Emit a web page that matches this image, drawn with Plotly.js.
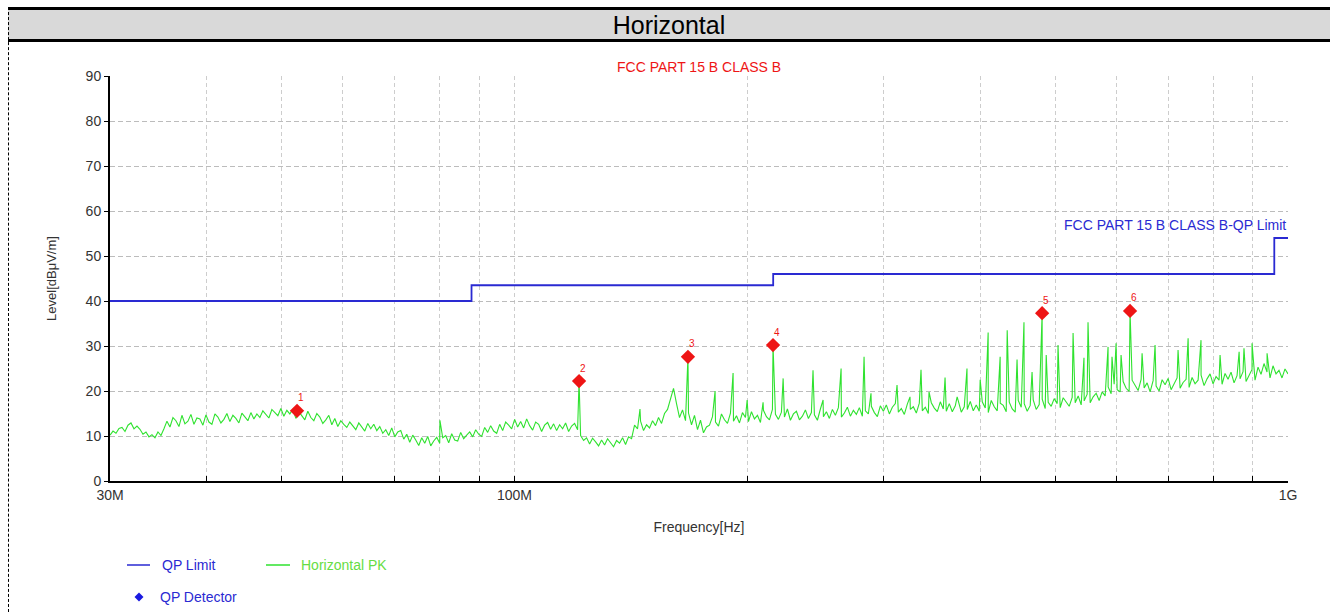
<!DOCTYPE html>
<html>
<head>
<meta charset="utf-8">
<script src="https://cdn.plot.ly/plotly-3.0.1.min.js"></script>
<style>
  html, body { margin: 0; padding: 0; background: #fff; }
  #wrap { position: relative; width: 1330px; height: 612px; overflow: hidden; font-family: "Liberation Sans", Arial, sans-serif; }
  #chart { position: absolute; left: 0; top: 0; width: 1330px; height: 612px; }
  #band { position: absolute; left: 8px; right: 0; top: 7px; height: 29px; background: #d9d9d9;
          border-top: 3px solid #000; border-bottom: 3px solid #000; text-align: center;
          font-size: 25px; line-height: 30px; color: #000; pointer-events: none; }
  #edge { position: absolute; left: 8px; top: 7px; bottom: 0; border-left: 1px dashed #000; pointer-events: none; }
</style>
</head>
<body>
<div id="wrap">
  <div id="chart"></div>
  <div id="band">Horizontal</div>
  <div id="edge"></div>
</div>
<script>
// Sweep span of the receiver (Hz)
const sweepStartHz = 30e6;
const sweepStopHz = 1e9;

// Horizontal PK noise floor, one reading per sweep point (dBμV/m)
const pkFloor = [
  10.2, 11.1, 10.6, 11.7, 11.9, 11.0, 12.4, 12.9, 11.6, 12.2,
  11.5, 10.4, 10.9, 9.8, 10.3, 9.6, 10.9, 10.1, 11.6, 13.3,
  12.0, 14.1, 13.4, 12.1, 14.6, 12.7, 13.3, 14.8, 12.6, 14.0,
  13.8, 12.4, 14.7, 13.1, 12.6, 14.9, 14.2, 12.9, 13.7, 15.0,
  13.2, 14.6, 13.9, 12.9, 15.1, 14.3, 13.4, 15.2, 13.8, 14.9,
  14.1, 15.6, 14.8, 14.0, 15.9, 15.2, 14.5, 16.1, 14.4, 15.7,
  14.9, 16.0, 13.9, 15.4, 14.6, 13.6, 15.5, 14.1, 13.4, 15.0,
  14.2, 12.8, 13.6, 14.6, 12.5, 13.9, 12.1, 13.4, 12.6, 11.9,
  13.1, 12.2, 11.4, 12.9, 11.9, 11.1, 12.8, 11.6, 12.6, 11.2,
  12.1, 10.6, 11.4, 10.1, 11.8, 9.8, 10.9, 11.2, 9.3, 10.4,
  8.6, 10.2, 9.1, 7.9, 9.6, 8.4, 9.9, 7.8, 8.9, 9.7,
  8.4, 9.6, 10.1, 8.5, 10.5, 9.1, 8.9, 10.8, 9.4, 10.2,
  10.9, 9.8, 11.4, 10.4, 9.9, 11.9, 10.8, 12.3, 11.1, 10.6,
  12.6, 11.2, 13.1, 12.4, 11.6, 13.7, 12.0, 13.2, 11.8, 13.8,
  12.3, 11.3, 13.1, 12.6, 11.0, 12.4, 13.0, 11.5, 12.7, 11.2,
  12.5, 11.6, 12.9, 11.0, 12.2, 12.8, 11.4, 10.1, 9.0, 9.6,
  8.2, 9.5, 8.7, 7.8, 9.1, 8.0, 9.4, 8.6, 7.6, 9.0,
  8.4, 9.6, 8.1, 9.8, 9.4, 12.4, 11.6, 13.3, 11.2, 12.5,
  11.8, 13.4, 12.3, 14.1, 12.8, 15.0, 15.9, 18.1, 20.6, 17.2,
  14.1, 15.8, 13.4, 15.1, 12.5, 14.6, 11.4, 13.5, 10.7, 12.0,
  12.4, 14.3, 13.1, 12.2, 14.9, 13.6, 12.8, 15.1, 13.3, 14.5,
  12.9, 15.2, 14.1, 13.2, 15.4, 13.8, 14.6, 13.0, 15.7, 14.3,
  13.6, 15.9, 14.8, 13.7, 15.3, 14.2, 16.0, 13.5, 14.9, 15.5,
  13.6, 14.4, 15.8, 13.9, 15.2, 14.7, 13.5, 16.0, 14.3, 15.4,
  13.9, 15.9, 14.6, 16.3, 14.2, 15.1, 16.4, 14.4, 15.7, 14.8,
  16.3, 14.4, 15.6, 14.9, 16.6, 15.2, 14.3, 16.7, 15.5, 16.9,
  14.9, 16.4, 17.2, 15.3, 16.1, 14.8, 17.1, 15.9, 16.5, 15.1,
  17.3, 15.6, 16.4, 15.0, 17.4, 16.2, 15.4, 17.6, 16.0, 15.5,
  17.2, 15.4, 16.7, 17.8, 15.3, 16.5, 15.9, 17.7, 15.6, 16.9,
  15.5, 17.6, 16.2, 15.2, 17.9, 16.5, 15.6, 17.3, 16.8, 15.4,
  17.5, 16.0, 15.3, 17.9, 16.4, 17.2, 15.5, 16.8, 18.0, 15.9,
  17.0, 18.2, 16.1, 17.5, 16.6, 18.3, 17.2, 16.3, 18.5, 17.4,
  16.6, 18.6, 17.4, 18.9, 16.9, 17.8, 19.3, 17.4, 18.7, 19.5,
  17.9, 19.8, 18.9, 20.9, 19.4, 21.5, 20.3, 19.8, 22.1, 20.6,
  19.9, 22.4, 21.2, 20.1, 22.6, 20.7, 21.8, 19.8, 22.3, 21.1,
  20.0, 22.5, 21.4, 22.8, 20.3, 21.7, 22.9, 20.6, 21.9, 22.6,
  20.8, 23.0, 21.6, 22.4, 23.5, 21.2, 22.7, 23.8, 21.6, 23.2,
  22.4, 21.5, 23.9, 22.6, 24.2, 21.8, 23.4, 22.7, 24.3, 22.1,
  23.6, 24.8, 22.4, 25.3, 23.7, 26.1, 24.2, 22.9, 25.6, 23.8,
  24.6, 22.9, 24.9, 23.8
];

// Narrowband emissions rising out of the floor (MHz, dBμV/m)
const spikeMHz = [
  80.1, 121.2, 145.3, 167.6, 181.7, 191.7, 199.9, 209.6, 215.9, 222.5,
  243.2, 250.6, 264.4, 283.1, 289.0, 312.3, 324.6, 335.4, 343.5, 360.3,
  373.5, 384.6, 400.0, 409.6, 424.5, 433.5, 446.4, 455.7, 466.8, 481.0,
  486.9, 504.3, 527.4, 544.8, 551.4, 585.3, 592.2, 599.4, 608.4, 624.9,
  647.7, 673.2, 720.9, 742.8, 771.9, 816.9, 864.6, 877.2, 898.5, 939.6
];
const spikeLevel = [
  13.5, 22.2, 16.0, 27.6, 20.0, 24.0, 18.0, 17.5, 30.2, 22.8,
  24.6, 18.0, 25.0, 27.6, 19.5, 21.3, 18.7, 24.7, 19.8, 23.0,
  18.7, 25.0, 22.5, 33.0, 27.6, 33.5, 27.0, 35.3, 24.2, 37.3,
  28.0, 30.2, 32.9, 27.4, 35.3, 29.8, 27.6, 30.6, 28.0, 37.8,
  28.4, 30.2, 29.1, 31.7, 31.3, 28.0, 28.7, 29.5, 30.6, 28.4
];

// FCC Part 15 class B QP limit (band edges in MHz, level in dBμV/m)
const limitMHz = [30, 88, 216, 960, 1000];
const limitLevel = [40, 43.5, 46, 54, 54];

// QP detector readings
const qpNo = ['1', '2', '3', '4', '5', '6'];
const qpMHz = [52.35, 121.2, 167.6, 215.9, 481.0, 624.9];
const qpLevel = [15.6, 22.2, 27.6, 30.2, 37.3, 37.8];

// Frequency axis tick marks and labels
const tickMHz = [30, 40, 50, 60, 70, 80, 90, 100, 200, 300, 400, 500, 600, 700, 800, 900, 1000];
const tickText = ['30M', '', '', '', '', '', '', '100M', '', '', '', '', '', '', '', '', '1G'];

// Build the PK trace: sweep points on the log grid, plus the emission peaks
const pk = [];
const n = pkFloor.length;
for (let i = 0; i < n; i++) {
  const f = sweepStartHz * Math.pow(sweepStopHz / sweepStartHz, i / (n - 1));
  pk.push([f, pkFloor[i]]);
}
for (let k = 0; k < spikeMHz.length; k++) pk.push([spikeMHz[k] * 1e6, spikeLevel[k]]);
pk.sort((a, b) => a[0] - b[0]);

const BLUE = '#2a2ad2';
const GREEN = '#2fe22f';
const RED = '#ee1515';
const FONT = '"Liberation Sans", Arial, sans-serif';

const traces = [
  {
    x: limitMHz.map(v => v * 1e6), y: limitLevel,
    mode: 'lines', line: { color: BLUE, width: 1.8, shape: 'hv' },
    name: 'QP Limit', hoverinfo: 'skip'
  },
  {
    x: pk.map(p => p[0]), y: pk.map(p => p[1]),
    mode: 'lines', line: { color: GREEN, width: 1.1 },
    name: 'Horizontal PK', hoverinfo: 'skip'
  },
  {
    x: qpMHz.map(v => v * 1e6), y: qpLevel,
    mode: 'markers',
    marker: { symbol: 'diamond', size: 11, color: RED },
    name: 'QP Detector', hoverinfo: 'skip'
  }
];

// Pixel helpers for the hand-drawn legend below the plot
const PL = 110, PR = 1288, PT = 76, PB = 481;
const px = v => (v - PL) / (PR - PL);
const py = v => (PB - v) / (PB - PT);
const dx = 4.5 / (PR - PL), dy = 4.5 / (PB - PT);
const dmx = px(139), dmy = py(597);

// Reading numbers just above each QP marker
const qpLabels = qpNo.map((t, i) => ({
  xref: 'x', yref: 'y', x: Math.log10(qpMHz[i] * 1e6), y: qpLevel[i],
  xshift: 4, yshift: 13, text: t, showarrow: false,
  font: { family: FONT, size: 10, color: RED }
}));

const layout = {
  width: 1330, height: 612,
  margin: { l: PL, r: 1330 - PR, t: PT, b: 612 - PB },
  paper_bgcolor: '#ffffff', plot_bgcolor: '#ffffff',
  showlegend: false,
  font: { family: FONT, size: 14, color: '#333' },
  xaxis: {
    type: 'log',
    range: [Math.log10(sweepStartHz), Math.log10(sweepStopHz)],
    tickmode: 'array', tickvals: tickMHz.map(v => v * 1e6), ticktext: tickText,
    ticks: 'inside', ticklen: 5, tickcolor: '#000', tickwidth: 1,
    showline: true, linecolor: '#000', linewidth: 2,
    showgrid: true, gridcolor: '#cdcdcd', griddash: '4px,3px', gridwidth: 1,
    zeroline: false,
    tickfont: { family: FONT, size: 14, color: '#333' },
    title: { text: 'Frequency[Hz]', standoff: 20, font: { family: FONT, size: 14, color: '#333' } }
  },
  yaxis: {
    range: [0, 90], dtick: 10, tick0: 0,
    ticks: 'outside', ticklen: 4, tickcolor: '#000', tickwidth: 1,
    showline: true, linecolor: '#000', linewidth: 2,
    showgrid: true, gridcolor: '#bcbcbc', griddash: '5px,3px', gridwidth: 1,
    zeroline: false,
    tickfont: { family: FONT, size: 14, color: '#333' },
    title: { text: 'Level[dBμV/m]', standoff: 26, font: { family: FONT, size: 13, color: '#333' } }
  },
  annotations: [
    { xref: 'paper', yref: 'paper', x: 0.5, y: 1, yshift: -1, xanchor: 'center', yanchor: 'bottom',
      text: 'FCC PART 15 B CLASS B', showarrow: false, font: { family: FONT, size: 14, color: RED } },
    { xref: 'paper', yref: 'y', x: 1, y: 57, xanchor: 'right', yanchor: 'middle',
      text: 'FCC PART 15 B CLASS B-QP Limit', showarrow: false, font: { family: FONT, size: 14, color: BLUE } },
    { xref: 'paper', yref: 'paper', x: px(160), y: py(565), xanchor: 'left', yanchor: 'middle',
      text: 'QP Limit', showarrow: false, font: { family: FONT, size: 14, color: BLUE } },
    { xref: 'paper', yref: 'paper', x: px(299), y: py(565), xanchor: 'left', yanchor: 'middle',
      text: 'Horizontal PK', showarrow: false, font: { family: FONT, size: 14, color: '#66dd44' } },
    { xref: 'paper', yref: 'paper', x: px(158), y: py(597), xanchor: 'left', yanchor: 'middle',
      text: 'QP Detector', showarrow: false, font: { family: FONT, size: 14, color: BLUE } }
  ].concat(qpLabels),
  shapes: [
    { type: 'line', xref: 'paper', yref: 'paper', x0: px(127), x1: px(150), y0: py(565), y1: py(565),
      line: { color: BLUE, width: 1.5 } },
    { type: 'line', xref: 'paper', yref: 'paper', x0: px(266), x1: px(290), y0: py(565), y1: py(565),
      line: { color: GREEN, width: 1.5 } },
    { type: 'path', xref: 'paper', yref: 'paper',
      path: `M ${dmx} ${dmy + dy} L ${dmx + dx} ${dmy} L ${dmx} ${dmy - dy} L ${dmx - dx} ${dmy} Z`,
      fillcolor: '#1a1ae0', line: { width: 0 } }
  ]
};

Plotly.newPlot('chart', traces, layout, { staticPlot: true, displayModeBar: false });
</script>
</body>
</html>
